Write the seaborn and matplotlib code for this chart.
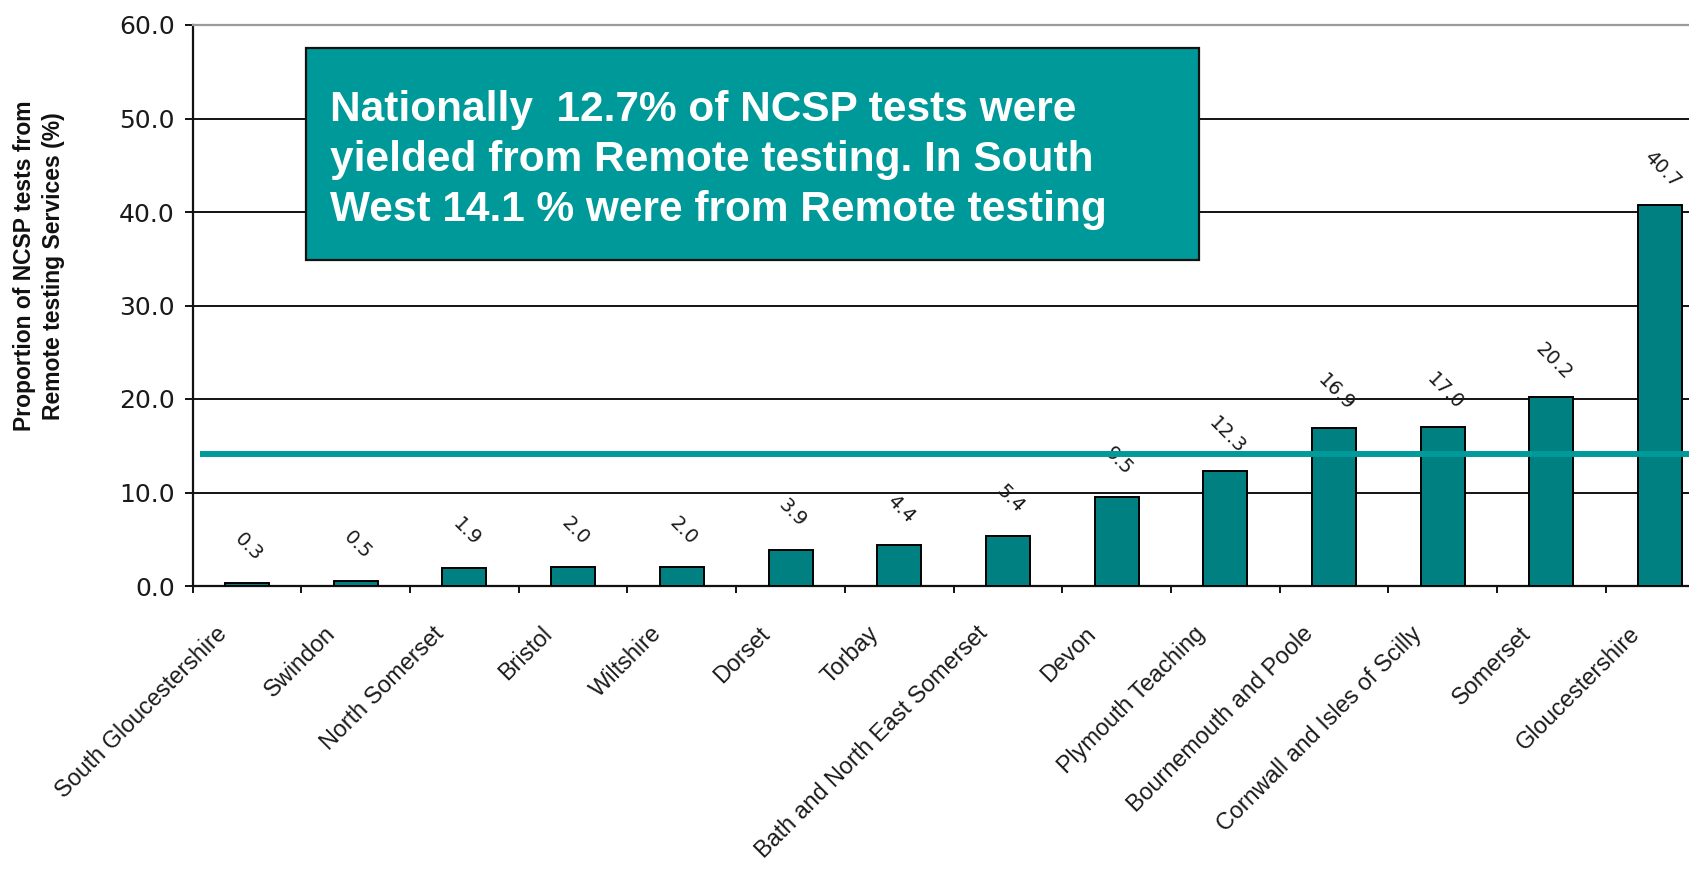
import matplotlib
matplotlib.use("Agg")
import matplotlib.pyplot as plt
from matplotlib.patches import Rectangle
from matplotlib.transforms import ScaledTranslation
import seaborn as sns

# Proportion of NCSP tests from remote testing services, South West PCTs
regions = [
    "South Gloucestershire", "Swindon", "North Somerset", "Bristol", "Wiltshire",
    "Dorset", "Torbay", "Bath and North East Somerset", "Devon", "Plymouth Teaching",
    "Bournemouth and Poole", "Cornwall and Isles of Scilly", "Somerset", "Gloucestershire",
]
values = [0.3, 0.5, 1.9, 2.0, 2.0, 3.9, 4.4, 5.4, 9.5, 12.3, 16.9, 17.0, 20.2, 40.7]
south_west_avg = 14.1
y_ticks = [0, 10, 20, 30, 40, 50, 60]
box_lines = [
    "Nationally  12.7% of NCSP tests were",
    "yielded from Remote testing. In South",
    "West 14.1 % were from Remote testing",
]
y_label = "Proportion of NCSP tests from\nRemote testing Services (%)"

BAR = "#008080"
BOX = "#009999"
LINE = "#009a9a"

sns.set_style("white")
plt.rcParams["font.family"] = ["DejaVu Sans"]
ARIAL = ["Liberation Sans", "DejaVu Sans"]

W, H = 1690, 869
fig = plt.figure(figsize=(W / 100, H / 100), dpi=100)
fig.patch.set_facecolor("white")

# plot area (the category axis runs slightly past the right edge)
left_px, top_px, bottom_px, step_px = 192.7, 25.0, 586.0, 108.7
ax = fig.add_axes([left_px / W, 1 - bottom_px / H,
                   14 * step_px / W, (bottom_px - top_px) / H])

sns.barplot(x=regions, y=values, color=BAR, saturation=1, width=0.405,
            edgecolor="black", linewidth=1.4, ax=ax, zorder=3)

ax.set_xlim(-0.5, len(regions) - 0.5)
ax.set_ylim(0, 60)
ax.set_yticks(y_ticks)
ax.set_yticklabels([f"{v:.1f}" for v in y_ticks], fontsize=18, color="#1a1a1a")
ax.set_axisbelow(True)
ax.yaxis.grid(True, color="black", linewidth=1.3)
ax.xaxis.grid(False)

ax.spines["right"].set_visible(False)
ax.spines["top"].set_color("#9a9a9a")
ax.spines["top"].set_linewidth(1.6)
ax.spines["top"].set_zorder(4)
for side in ("left", "bottom"):
    ax.spines[side].set_color("#111111")
    ax.spines[side].set_linewidth(1.6)

ax.tick_params(axis="y", direction="out", length=6, width=1.4, color="#111111",
               pad=7, left=True)
# category boundaries carry the tick marks, labels sit at category centres
ax.set_xticks([i - 0.5 for i in range(len(regions) + 1)], minor=True)
ax.tick_params(axis="x", which="minor", direction="out", length=5, width=1.4,
               color="#111111", bottom=True)
ax.tick_params(axis="x", which="major", length=0, pad=26)
ax.set_xticks(range(len(regions)))
ax.set_xticklabels(regions, rotation=45, ha="right", va="top", fontsize=16.8,
                   color="#1a1a1a", family=ARIAL)
shift = ScaledTranslation(-16 / 100, 0, fig.dpi_scale_trans)
for lbl in ax.get_xticklabels():
    lbl.set_transform(lbl.get_transform() + shift)
ax.set_xlabel("")
ax.set_ylabel("")

# value labels above each bar
for i, v in enumerate(values):
    ax.annotate(f"{v:.1f}", xy=(i, v), xytext=(2, 36), textcoords="offset pixels",
                ha="center", va="center", rotation=-45, fontsize=14,
                color="#1a1a1a", zorder=4)

# South West average line
ax.hlines(south_west_avg, -0.43, len(regions) - 0.5, color=LINE, linewidth=4.3,
          zorder=6, clip_on=False)

# y-axis title
fig.text(39 / W, 1 - 266 / H, y_label, rotation=90, ha="center", va="center",
         fontsize=16.5, fontweight="bold", family=ARIAL,
         color="#111111", linespacing=1.3)

# annotation box
bx0, by0, bx1, by1 = 306, 48, 1199, 260
fig.patches.append(Rectangle((bx0 / W, 1 - by1 / H), (bx1 - bx0) / W, (by1 - by0) / H,
                             transform=fig.transFigure, facecolor=BOX,
                             edgecolor="#111111", linewidth=1.6, zorder=10))
for k, line in enumerate(box_lines):
    fig.text(330 / W, 1 - (121 + 50 * k) / H, line, ha="left", va="baseline",
             fontsize=30.5, fontweight="bold", color="white",
             family=ARIAL, zorder=11)

fig.savefig("out.png", dpi=100, facecolor="white")
